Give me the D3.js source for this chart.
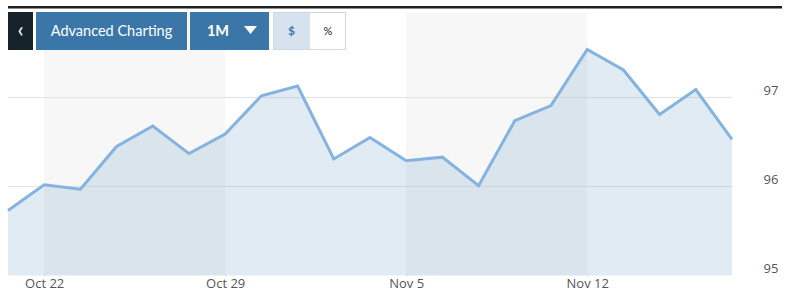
<!DOCTYPE html>
<html>
<head>
<meta charset="utf-8">
<script src="https://cdn.jsdelivr.net/npm/d3@7"></script>
<style>
  html, body { margin: 0; padding: 0; background: #fff; }
  svg { display: block; font-family: Lato, "Open Sans", sans-serif; }
</style>
</head>
<body>
<svg id="chart" width="790" height="297"></svg>
<script>
// ---- data ----
const dates = ["Oct 19","Oct 22","Oct 23","Oct 24","Oct 25","Oct 26",
               "Oct 29","Oct 30","Oct 31","Nov 1","Nov 2",
               "Nov 5","Nov 6","Nov 7","Nov 8","Nov 9",
               "Nov 12","Nov 13","Nov 14","Nov 15","Nov 16"];
const prices = [95.73, 96.02, 95.97, 96.45, 96.68, 96.37,
                96.59, 97.02, 97.13, 96.31, 96.55,
                96.29, 96.33, 96.01, 96.74, 96.91,
                97.54, 97.31, 96.81, 97.09, 96.53];
const xTickLabels = ["Oct 22","Oct 29","Nov 5","Nov 12"];
const yTickValues = [95, 96, 97];
const shadedWeeks = [["Oct 22","Oct 29"],["Nov 5","Nov 12"]];
const buttonLabels = ["‹", "Advanced Charting", "1M", "$", "%"];

// ---- layout ----
const svg = d3.select("#chart");
const plotLeft = 8, plotRight = 732, plotTop = 13, plotBottom = 275.5;
const axisFont = "'Open Sans', 'DejaVu Sans', sans-serif";

const x = d3.scalePoint().domain(dates).range([plotLeft, plotRight]);
const y = d3.scaleLinear().domain([95, 97.95]).range([plotBottom, plotTop]);

// top black rule
svg.append("rect").attr("x", 8).attr("y", 6).attr("width", 774).attr("height", 2.5).attr("fill", "#1f1f1f");

// shaded week bands
svg.selectAll("rect.band").data(shadedWeeks).enter().append("rect")
  .attr("class", "band")
  .attr("x", d => x(d[0]))
  .attr("y", plotTop)
  .attr("width", d => x(d[1]) - x(d[0]))
  .attr("height", plotBottom - plotTop)
  .attr("fill", "#f7f7f7");

// gridlines
svg.selectAll("line.grid").data(yTickValues.filter(v => v !== 95)).enter().append("line")
  .attr("class", "grid")
  .attr("x1", plotLeft).attr("x2", plotRight)
  .attr("y1", d => y(d)).attr("y2", d => y(d))
  .attr("stroke", "#e3e3e3").attr("stroke-width", 1);

// area
const area = d3.area()
  .x((d, i) => x(dates[i]))
  .y0(plotBottom)
  .y1(d => y(d));
svg.append("path").datum(prices)
  .attr("d", area)
  .attr("fill", "rgb(120,165,205)")
  .attr("fill-opacity", 0.22);

// line
const line = d3.line()
  .x((d, i) => x(dates[i]))
  .y(d => y(d));
svg.append("path").datum(prices)
  .attr("d", line)
  .attr("fill", "none")
  .attr("stroke", "#85b3e0")
  .attr("stroke-width", 3)
  .attr("stroke-linejoin", "miter");

// x axis
const xAxis = d3.axisBottom(x).tickValues(xTickLabels).tickSize(3).tickPadding(2);
const gx = svg.append("g").attr("transform", `translate(0,${plotBottom - 2})`).call(xAxis);
gx.select(".domain").remove();
gx.selectAll(".tick line").attr("stroke", "#dcdcdc");
gx.selectAll(".tick text").attr("fill", "#555").attr("font-size", 13)
  .attr("font-family", axisFont);

// y axis labels (right)
const yAxis = d3.axisRight(y).tickValues(yTickValues).tickSize(0).tickPadding(0).tickFormat(d3.format("d"));
const gy = svg.append("g").attr("transform", `translate(763.5,-7)`).call(yAxis);
gy.select(".domain").remove();
gy.selectAll(".tick text").attr("fill", "#555").attr("font-size", 13)
  .attr("font-family", axisFont);

// ---- toolbar buttons ----
const tb = svg.append("g");
// back button
tb.append("rect").attr("x", 8).attr("y", 12).attr("width", 25).attr("height", 38).attr("fill", "#16232b");
tb.append("text").attr("x", 20.5).attr("y", 37).attr("text-anchor", "middle")
  .attr("fill", "#fff").attr("font-size", 22).text(buttonLabels[0]);
// advanced charting
tb.append("rect").attr("x", 36).attr("y", 12).attr("width", 151).attr("height", 38).attr("fill", "#3a77a8");
tb.append("text").attr("x", 111.5).attr("y", 36).attr("text-anchor", "middle")
  .attr("fill", "#fff").attr("font-size", 14.5).text(buttonLabels[1]);
// 1M dropdown
tb.append("rect").attr("x", 190).attr("y", 12).attr("width", 79).attr("height", 38).attr("fill", "#3a77a8");
tb.append("text").attr("x", 218).attr("y", 36).attr("text-anchor", "middle")
  .attr("fill", "#fff").attr("font-size", 14.5).attr("font-weight", "bold").text(buttonLabels[2]);
tb.append("path").attr("d", "M244,26 L257,26 L250.5,34 Z").attr("fill", "#fff");
// $ / % toggle
tb.append("rect").attr("x", 273.5).attr("y", 12.5).attr("width", 72).attr("height", 37)
  .attr("fill", "#fff").attr("stroke", "#d0d7de").attr("stroke-width", 1);
tb.append("rect").attr("x", 274).attr("y", 13).attr("width", 36).attr("height", 36).attr("fill", "#d6e3ef");
tb.append("text").attr("x", 291.5).attr("y", 35).attr("text-anchor", "middle")
  .attr("fill", "#3a77a8").attr("font-size", 12).attr("font-weight", "bold").text(buttonLabels[3]);
tb.append("text").attr("x", 328).attr("y", 35).attr("text-anchor", "middle")
  .attr("fill", "#222").attr("font-size", 11).text(buttonLabels[4]);
</script>
</body>
</html>
